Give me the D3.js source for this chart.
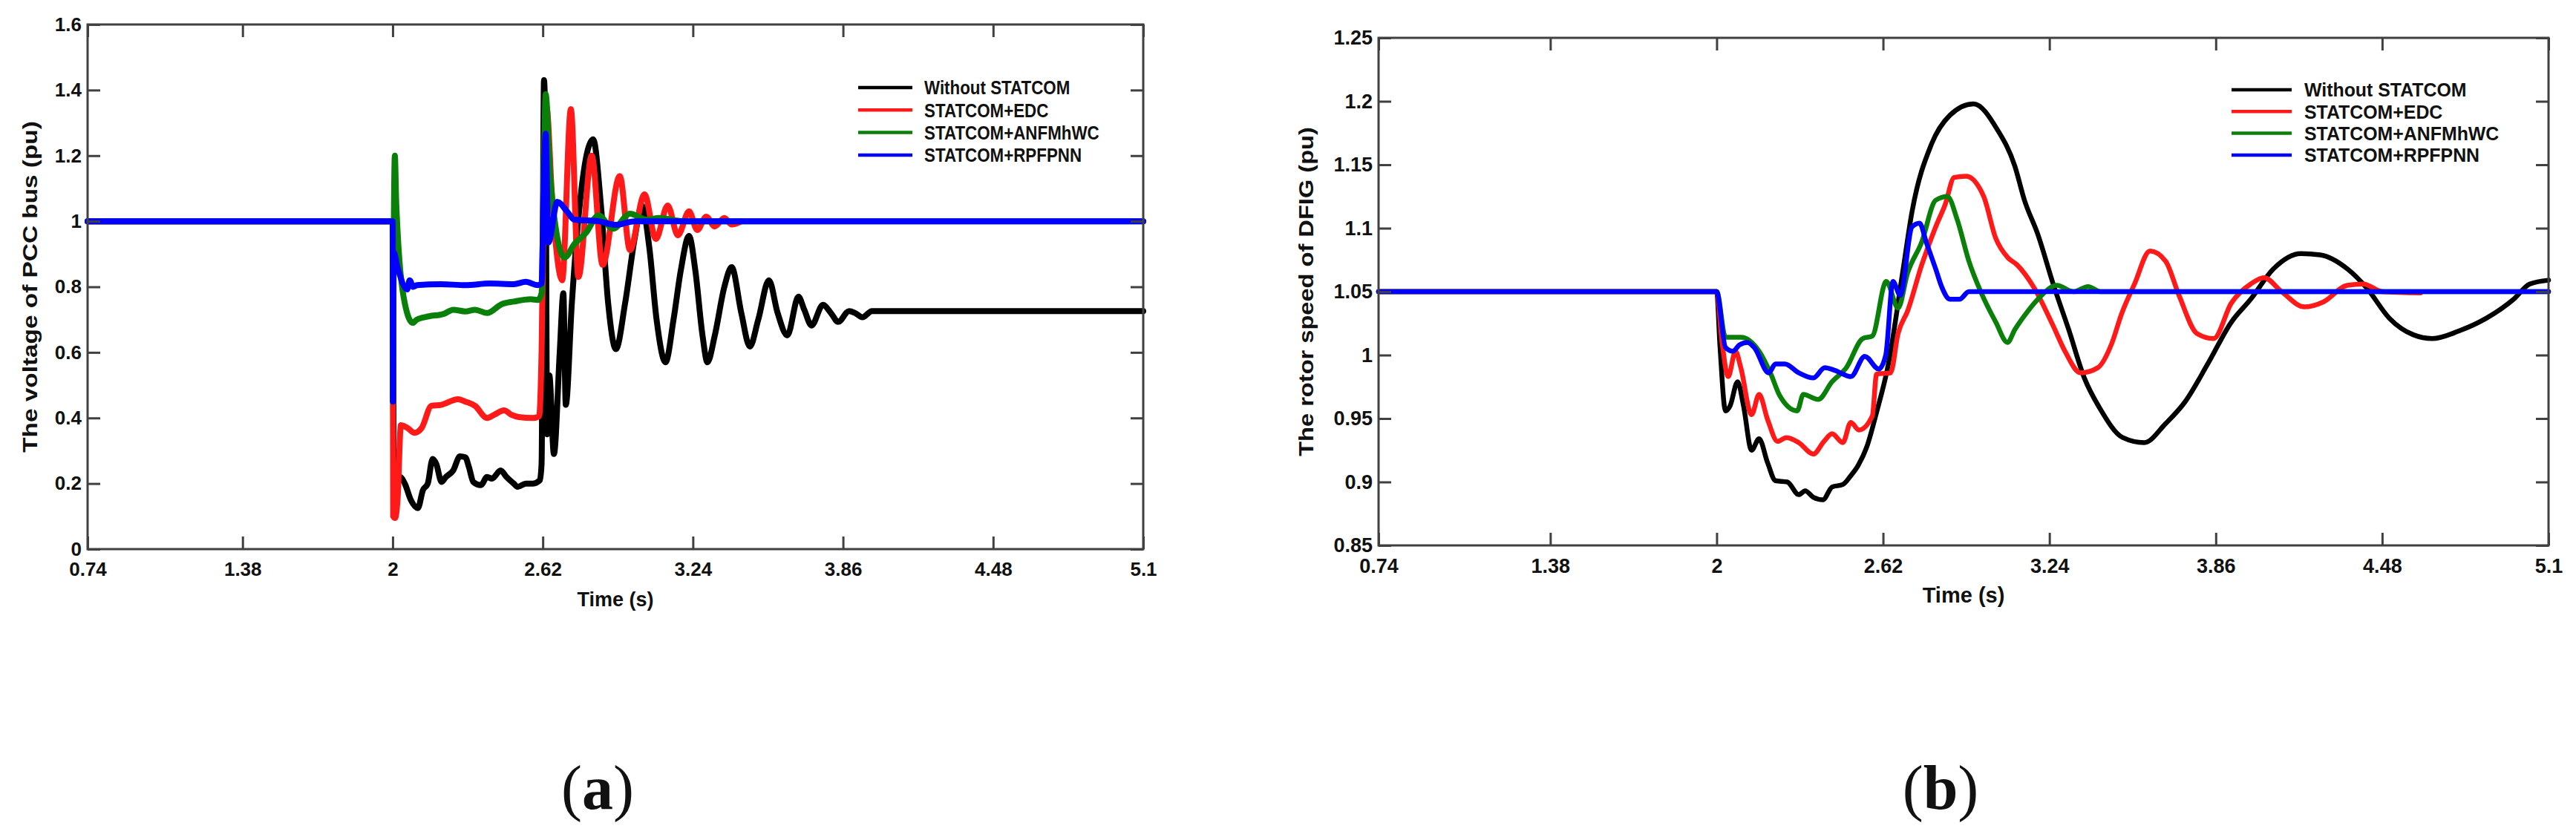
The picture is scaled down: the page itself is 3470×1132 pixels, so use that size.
<!DOCTYPE html>
<html>
<head>
<meta charset="utf-8">
<script src="https://cdn.jsdelivr.net/npm/d3@7"></script>
<style>
	body { margin: 0; background: #fff; }
	text { font-family: "Liberation Sans", Arial, sans-serif; font-weight: bold; fill: #111; }
	.caption text, text.caption { font-family: "Liberation Serif", "Times New Roman", serif; font-weight: normal; }
</style>
</head>
<body>
<script>
// ---- data ----
var seriesNames = ["Without STATCOM", "STATCOM+EDC", "STATCOM+ANFMhWC", "STATCOM+RPFPNN"];
var seriesColors = ["#000000", "#ff1a1a", "#0a800a", "#0000ff"];

var timeTicks = [0.74, 1.38, 2, 2.62, 3.24, 3.86, 4.48, 5.1];
var voltageTicks = [0, 0.2, 0.4, 0.6, 0.8, 1, 1.2, 1.4, 1.6];
var speedTicks = [0.85, 0.9, 0.95, 1, 1.05, 1.1, 1.15, 1.2, 1.25];

// (a) voltage of PCC bus, [time, pu]
var voltageWithout = [[0.74,1.0],[2.0,1.0],[2.005,0.15],[2.012,0.17],[2.03,0.22],[2.05,0.2],[2.075,0.15],[2.104,0.125],[2.125,0.18],[2.145,0.2],[2.165,0.275],[2.18,0.26],[2.202,0.205],[2.22,0.22],[2.25,0.24],[2.278,0.283],[2.30,0.28],[2.315,0.25],[2.333,0.205],[2.364,0.195],[2.39,0.22],[2.41,0.215],[2.446,0.24],[2.47,0.22],[2.5,0.2],[2.516,0.19],[2.55,0.2],[2.58,0.2],[2.608,0.21],[2.615,0.26],[2.625,1.43],[2.632,1.2],[2.638,0.35],[2.647,0.53],[2.666,0.29],[2.69,0.6],[2.705,0.78],[2.715,0.44],[2.74,0.75],[2.78,1.1],[2.828,1.25],[2.86,1.05],[2.89,0.75],[2.922,0.61],[2.96,0.75],[3.0,0.95],[3.029,1.048],[3.06,0.92],[3.09,0.7],[3.127,0.57],[3.16,0.7],[3.19,0.85],[3.224,0.955],[3.25,0.85],[3.28,0.65],[3.30,0.57],[3.33,0.65],[3.37,0.8],[3.40,0.86],[3.44,0.72],[3.475,0.618],[3.51,0.7],[3.554,0.82],[3.59,0.72],[3.63,0.652],[3.676,0.77],[3.70,0.73],[3.73,0.682],[3.777,0.745],[3.81,0.72],[3.84,0.693],[3.885,0.726],[3.91,0.72],[3.94,0.707],[3.98,0.726],[5.1,0.726]];
var voltageEDC = [[0.74,1.0],[2.0,1.0],[2.002,0.1],[2.01,0.095],[2.02,0.15],[2.034,0.378],[2.06,0.37],[2.09,0.355],[2.12,0.37],[2.16,0.437],[2.2,0.44],[2.27,0.457],[2.3,0.45],[2.34,0.437],[2.39,0.40],[2.42,0.41],[2.46,0.423],[2.49,0.41],[2.52,0.403],[2.58,0.4],[2.605,0.405],[2.615,0.6],[2.625,1.1],[2.635,1.35],[2.66,1.05],[2.70,0.82],[2.736,1.342],[2.767,0.83],[2.822,1.2],[2.867,0.867],[2.938,1.138],[2.98,0.912],[3.04,1.082],[3.087,0.946],[3.136,1.048],[3.178,0.957],[3.224,1.03],[3.258,0.973],[3.295,1.014],[3.33,0.984],[3.37,1.01],[3.40,0.99],[3.44,1.0]];
var voltageANFMhWC = [[0.74,1.0],[2.0,1.0],[2.001,0.45],[2.004,0.9],[2.009,1.2],[2.015,1.05],[2.05,0.75],[2.083,0.69],[2.1,0.70],[2.15,0.71],[2.21,0.717],[2.25,0.73],[2.3,0.725],[2.34,0.73],[2.39,0.72],[2.45,0.747],[2.5,0.755],[2.57,0.762],[2.60,0.76],[2.615,0.78],[2.625,1.2],[2.632,1.387],[2.65,1.15],[2.68,0.95],[2.71,0.889],[2.75,0.93],[2.80,0.966],[2.85,1.018],[2.91,0.977],[2.98,1.023],[3.05,1.005],[3.1,1.01],[3.2,1.0],[5.1,1.0]];
var voltageRPFPNN = [[0.74,1.0],[2.0,1.0],[2.001,0.45],[2.004,0.905],[2.02,0.86],[2.06,0.792],[2.07,0.82],[2.085,0.8],[2.1,0.805],[2.2,0.808],[2.3,0.805],[2.4,0.81],[2.5,0.808],[2.55,0.815],[2.6,0.805],[2.615,0.81],[2.625,1.15],[2.632,1.267],[2.643,0.935],[2.68,1.059],[2.72,1.03],[2.75,1.005],[2.85,1.0],[2.92,0.989],[3.0,1.0],[5.1,1.0]];

// (b) rotor speed of DFIG, [time, pu]
var speedWithout = [[0.74,1.05],[2.0,1.05],[2.012,1.008],[2.033,0.956],[2.05,0.96],[2.078,0.979],[2.1,0.96],[2.13,0.925],[2.158,0.934],[2.19,0.915],[2.219,0.901],[2.263,0.90],[2.306,0.89],[2.33,0.893],[2.36,0.888],[2.396,0.886],[2.43,0.896],[2.47,0.898],[2.5,0.905],[2.527,0.913],[2.56,0.928],[2.596,0.955],[2.64,0.993],[2.693,1.065],[2.728,1.113],[2.80,1.166],[2.869,1.189],[2.957,1.198],[3.045,1.178],[3.111,1.149],[3.147,1.122],[3.197,1.095],[3.254,1.056],[3.312,1.02],[3.37,0.982],[3.428,0.958],[3.513,0.935],[3.593,0.931],[3.673,0.946],[3.745,0.963],[3.83,0.993],[3.918,1.026],[3.99,1.044],[4.075,1.068],[4.177,1.08],[4.249,1.079],[4.35,1.068],[4.422,1.053],[4.507,1.029],[4.596,1.016],[4.667,1.013],[4.766,1.019],[4.868,1.029],[4.97,1.044],[5.03,1.056],[5.1,1.059]];
var speedEDC = [[0.74,1.05],[2.0,1.05],[2.02,1.01],[2.043,0.983],[2.07,1.003],[2.09,0.99],[2.13,0.953],[2.158,0.969],[2.19,0.949],[2.227,0.932],[2.26,0.935],[2.306,0.931],[2.36,0.922],[2.40,0.932],[2.43,0.938],[2.47,0.931],[2.5,0.947],[2.53,0.941],[2.58,0.952],[2.596,0.985],[2.648,0.986],[2.676,1.017],[2.712,1.035],[2.764,1.071],[2.816,1.101],[2.852,1.119],[2.885,1.14],[2.929,1.141],[2.995,1.125],[3.04,1.092],[3.084,1.077],[3.12,1.071],[3.183,1.053],[3.254,1.023],[3.298,1.003],[3.356,0.986],[3.42,0.99],[3.472,1.009],[3.508,1.032],[3.557,1.056],[3.615,1.082],[3.673,1.074],[3.723,1.047],[3.79,1.017],[3.852,1.013],[3.918,1.041],[3.99,1.056],[4.04,1.061],[4.105,1.05],[4.19,1.038],[4.262,1.042],[4.35,1.055],[4.41,1.056],[4.48,1.05],[4.623,1.049]];
var speedANFMhWC = [[0.74,1.05],[2.0,1.05],[2.033,1.014],[2.09,1.014],[2.158,1.003],[2.202,0.985],[2.235,0.968],[2.3,0.956],[2.323,0.969],[2.378,0.965],[2.43,0.979],[2.483,0.99],[2.544,1.013],[2.58,1.015],[2.632,1.058],[2.676,1.037],[2.712,1.065],[2.764,1.089],[2.816,1.122],[2.86,1.125],[2.896,1.107],[2.94,1.074],[2.984,1.05],[3.04,1.026],[3.084,1.01],[3.111,1.02],[3.161,1.035],[3.197,1.044],[3.268,1.055],[3.33,1.05],[3.384,1.054],[3.43,1.05],[5.1,1.05]];
var speedRPFPNN = [[0.74,1.05],[2.0,1.05],[2.033,1.006],[2.06,1.003],[2.085,1.008],[2.114,1.01],[2.14,1.006],[2.194,0.986],[2.219,0.993],[2.254,0.993],[2.306,0.986],[2.36,0.982],[2.403,0.99],[2.44,0.988],[2.5,0.983],[2.552,0.999],[2.604,0.989],[2.63,1.0],[2.657,1.058],[2.684,1.047],[2.728,1.101],[2.756,1.104],[2.781,1.089],[2.816,1.068],[2.84,1.053],[2.869,1.044],[2.905,1.044],[2.94,1.05],[5.1,1.05]];

// ---- drawing ----
var svg = d3.select("body").append("svg")
	.attr("width", 3470)
	.attr("height", 1132);

function drawPanel(opt) {
	var x = d3.scaleLinear().domain([0.74, 5.1]).range([opt.left, opt.right]);
	var y = d3.scaleLinear().domain(opt.yDomain).range([opt.bottom, opt.top]);
	var g = svg.append("g");
	var tick = 17;

	// curves, black first so blue ends on top
	var line = d3.line()
		.x(function(d) { return x(d[0]); })
		.y(function(d) { return y(d[1]); })
		.curve(d3.curveMonotoneX);

	g.selectAll(".curve")
		.data(opt.series)
		.enter()
		.append("path")
			.attr("class", "curve")
			.attr("d", line)
			.attr("fill", "none")
			.attr("stroke", function(d, i) { return seriesColors[i]; })
			.attr("stroke-width", opt.lineWidth)
			.attr("stroke-linejoin", "round")
			.attr("stroke-linecap", "round");

	var fmt = function(d) { return String(d); };
	var axes = [
		{ ax: d3.axisBottom(x).tickValues(timeTicks).tickFormat(fmt), at: "translate(0," + opt.bottom + ")", cls: "xb" },
		{ ax: d3.axisTop(x).tickValues(timeTicks).tickFormat(""), at: "translate(0," + opt.top + ")", cls: "xt" },
		{ ax: d3.axisLeft(y).tickValues(opt.yTicks).tickFormat(fmt), at: "translate(" + opt.left + ",0)", cls: "yl" },
		{ ax: d3.axisRight(y).tickValues(opt.yTicks).tickFormat(""), at: "translate(" + opt.right + ",0)", cls: "yr" }
	];
	axes.forEach(function(a) {
		var ag = g.append("g")
			.attr("class", a.cls)
			.attr("transform", a.at)
			.call(a.ax.tickSizeInner(-tick).tickSizeOuter(0).tickPadding(opt.pad));
		ag.select(".domain").remove();
		ag.selectAll(".tick line").attr("stroke", "#404040").attr("stroke-width", 3);
		ag.selectAll(".tick text")
			.attr("font-size", opt.tickFont)
			.attr("font-family", null)
			.attr("fill", "#111");
	});
	g.select(".xb").selectAll(".tick text").attr("dy", "0.71em").attr("y", opt.xLabelPad);

	// frame
	g.append("rect")
		.attr("x", opt.left).attr("y", opt.top)
		.attr("width", opt.right - opt.left).attr("height", opt.bottom - opt.top)
		.attr("fill", "none").attr("stroke", "#404040").attr("stroke-width", 3);

	// axis titles
	g.append("text")
		.attr("transform", "translate(" + ((opt.left + opt.right) / 2) + "," + opt.xTitleY + ")")
		.attr("text-anchor", "middle")
		.attr("font-size", opt.xTitleFont)
		.text("Time (s)");

	g.append("text")
		.attr("transform", "translate(" + opt.yTitleX + "," + ((opt.top + opt.bottom) / 2) + ") rotate(-90) scale(" + opt.yTitleStretch + ",1)")
		.attr("text-anchor", "middle")
		.attr("dy", "0.35em")
		.attr("font-size", 27)
		.text(opt.yTitle);

	// legend
	var lg = g.append("g").attr("transform", "translate(" + opt.legend.x + "," + opt.legend.y + ")");
	var rows = lg.selectAll(".row")
		.data(seriesNames)
		.enter()
		.append("g")
			.attr("class", "row")
			.attr("transform", function(d, i) { return "translate(0," + i * opt.legend.step + ")"; });
	rows.append("line")
		.attr("x1", 0).attr("x2", opt.legend.len)
		.attr("y1", 0).attr("y2", 0)
		.attr("stroke", function(d, i) { return seriesColors[i]; })
		.attr("stroke-width", 4.5);
	rows.append("text")
		.attr("transform", "translate(" + (opt.legend.len + opt.legend.gap) + ",0) scale(" + opt.legend.sx + ",1)")
		.attr("dy", "0.36em")
		.attr("font-size", 26)
		.text(function(d) { return d; });

	// caption
	var cap = svg.append("text")
		.attr("class", "caption")
		.attr("x", opt.captionX)
		.attr("y", 1090)
		.attr("text-anchor", "middle")
		.attr("font-size", 84);
	cap.append("tspan").text("(");
	cap.append("tspan").attr("font-weight", "bold").text(opt.caption);
	cap.append("tspan").text(")");
}

drawPanel({
	left: 118, right: 1540, top: 33, bottom: 740,
	yDomain: [0, 1.6], yTicks: voltageTicks,
	series: [voltageWithout, voltageEDC, voltageANFMhWC, voltageRPFPNN],
	lineWidth: 8, tickFont: 26, pad: 8, xLabelPad: 18,
	xTitleY: 817, xTitleFont: 27,
	yTitle: "The voltage of PCC bus (pu)", yTitleX: 41, yTitleStretch: 1.236,
	legend: { x: 1156, y: 118, step: 30.3, len: 73, gap: 16, sx: 0.86 },
	caption: "a", captionX: 805
});

drawPanel({
	left: 1857, right: 3433, top: 51, bottom: 735,
	yDomain: [0.85, 1.25], yTicks: speedTicks,
	series: [speedWithout, speedEDC, speedANFMhWC, speedRPFPNN],
	lineWidth: 6.5, tickFont: 27, pad: 8, xLabelPad: 18,
	xTitleY: 812, xTitleFont: 29,
	yTitle: "The rotor speed of DFIG (pu)", yTitleX: 1760, yTitleStretch: 1.208,
	legend: { x: 3006, y: 121, step: 29.3, len: 81, gap: 17, sx: 0.957 },
	caption: "b", captionX: 2614
});
</script>
</body>
</html>
